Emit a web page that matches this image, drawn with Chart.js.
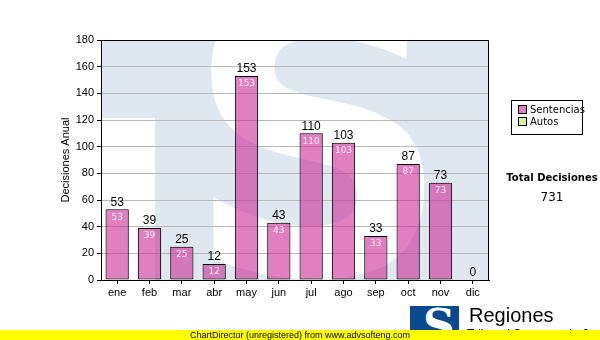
<!DOCTYPE html>
<html>
<head>
<meta charset="utf-8">
<script src="https://cdn.jsdelivr.net/npm/chart.js@4.4.1/dist/chart.umd.min.js"></script>
<style>
  html, body { margin: 0; padding: 0; background: #fff }
  #wrap { position: relative; width: 600px; height: 340px; overflow: hidden; font-family: 'Liberation Sans', Arial, sans-serif }
  #chart { position: absolute; left: 0; top: 0 }
  .legend { position: absolute; left: 511px; top: 100px; width: 72px; height: 35px; border: 1px solid #000; background: #fff;
            font: 10px 'DejaVu Sans', Verdana, sans-serif; box-sizing: border-box; padding: 3px 0 0 6px }
  .legend div { height: 12px; line-height: 12px; white-space: nowrap }
  .legend span { display: inline-block; width: 7px; height: 7px; border: 1px solid #000; margin-right: 3px; vertical-align: -1px }
  .total { position: absolute; left: 502px; width: 100px; text-align: center; font-family: 'DejaVu Sans', Verdana, sans-serif }
  .logo { position: absolute; left: 410px; top: 306px; width: 49px; height: 34px; background: #0a4b8f; overflow: hidden }
  .logo b { position: absolute; left: 13px; top: -6px; color: #fff; font: bold 44px 'DejaVu Serif', serif }
  .regiones { position: absolute; left: 469px; top: 304px; font-size: 20px; color: #000 }
  .tsj { position: absolute; left: 467px; top: 327px; font-size: 12px; color: #000; white-space: nowrap }
  .barra { position: absolute; left: 0; top: 330px; width: 600px; height: 10px; background: #ffff00;
           font-size: 9px; line-height: 10px; text-align: center; color: #000 }
</style>
</head>
<body>
<div id="wrap">
  <canvas id="chart" width="600" height="340"></canvas>
  <div class="legend" id="legend"></div>
  <div class="total" style="top:172px;font-size:10px;font-weight:bold">Total Decisiones</div>
  <div class="total" id="total" style="top:190px;font-size:12px"></div>
  <div class="logo"><b>S</b></div>
  <div class="regiones">Regiones</div>
  <div class="tsj">Tribunal Supremo de Justicia</div>
  <div class="barra">ChartDirector (unregistered) from www.advsofteng.com</div>
</div>
<script>
const meses      = ['ene', 'feb', 'mar', 'abr', 'may', 'jun', 'jul', 'ago', 'sep', 'oct', 'nov', 'dic']
const sentencias = [53, 39, 25, 12, 153, 43, 110, 103, 33, 87, 73, 0]
const autos      = [0, 0, 0, 0, 0, 0, 0, 0, 0, 0, 0, 0]
const yMax = 180, yStep = 20

const totales = sentencias.map((v, i) => v + autos[i])

// legend + total box
const series = [
  { label: 'Sentencias', color: '#e080c0' },
  { label: 'Autos',      color: '#d8f0a0' },
]
document.getElementById('legend').innerHTML = series
  .map(s => `<div><span style="background:${s.color}"></span>${s.label}</div>`).join('')
document.getElementById('total').textContent = totales.reduce((a, b) => a + b, 0)

// light "TS" logo behind the bars
const watermark = {
  id: 'watermark',
  beforeDraw(chart) {
    const { ctx, chartArea: a } = chart
    ctx.save()
    ctx.beginPath()
    ctx.rect(a.left, a.top, a.right - a.left, a.bottom - a.top)
    ctx.clip()
    ctx.fillStyle = '#dfe8f1'
    ctx.fillRect(a.left, a.top, a.right - a.left, a.bottom - a.top)
    ctx.fillStyle = '#fff'
    ctx.fillRect(a.left, a.top + 78, 54, a.bottom - a.top)
    ctx.translate(318, 274)
    ctx.scale(0.95, 1)
    ctx.font = 'bold 390px "DejaVu Sans"'
    ctx.textAlign = 'center'
    ctx.textBaseline = 'alphabetic'
    ctx.fillText('S', 0, 0)
    ctx.restore()
  }
}

// value above each bar and repeated inside it
const valueLabels = {
  id: 'valueLabels',
  afterDatasetsDraw(chart) {
    const { ctx, chartArea: a } = chart
    const meta = chart.getDatasetMeta(0)
    const y = chart.scales.y
    ctx.save()
    ctx.strokeStyle = '#000'
    ctx.lineWidth = 1
    ctx.beginPath()
    ctx.moveTo(a.left, a.top + 0.5)
    ctx.lineTo(a.right - 0.5, a.top + 0.5)
    ctx.lineTo(a.right - 0.5, a.bottom)
    ctx.stroke()
    ctx.textAlign = 'center'
    meta.data.forEach((bar, i) => {
      const top = y.getPixelForValue(totales[i])
      ctx.fillStyle = '#000'
      ctx.font = '12px "Liberation Sans"'
      ctx.textBaseline = 'bottom'
      ctx.fillText(totales[i], bar.x, top - 1)
      if (sentencias[i] > 0) {
        ctx.fillStyle = '#fbe8f4'
        ctx.font = '9px "DejaVu Sans"'
        ctx.textBaseline = 'middle'
        ctx.fillText(sentencias[i], bar.x, bar.y + 8)
      }
    })
    ctx.restore()
  }
}

Chart.defaults.font.family = 'Liberation Sans'
Chart.defaults.font.size = 11
Chart.defaults.color = '#000'

new Chart(document.getElementById('chart'), {
  type: 'bar',
  data: {
    labels: meses,
    datasets: [
      { label: 'Sentencias', data: sentencias, backgroundColor: 'rgba(203,43,150,0.6)', borderColor: '#000', borderWidth: 1, borderSkipped: false, barPercentage: 0.72, categoryPercentage: 1 },
      { label: 'Autos', data: autos, backgroundColor: 'rgba(200,235,140,0.8)', borderWidth: 0, barPercentage: 0.72, categoryPercentage: 1 },
    ]
  },
  options: {
    responsive: false,
    animation: false,
    layout: { padding: { left: 0, top: 40, right: 111, bottom: 40 } },
    plugins: { legend: { display: false }, tooltip: { enabled: false } },
    scales: {
      x: {
        stacked: true,
        grid: { display: true, drawOnChartArea: false, offset: false, tickLength: 4, tickColor: '#000' },
        border: { color: '#000' },
        ticks: { padding: 2, color: '#000' },
        afterFit: s => { s.height = 20 }
      },
      y: {
        stacked: true,
        min: 0, max: yMax,
        ticks: { stepSize: yStep, padding: 3, color: '#000' },
        grid: { color: '#b8b8b8', tickLength: 4, tickColor: '#000' },
        border: { color: '#000' },
        title: { display: true, text: 'Decisiones Anual', font: { size: 11 }, padding: { top: 59, bottom: 0 } },
        afterFit: s => { s.width = 101 }
      }
    }
  },
  plugins: [watermark, valueLabels]
})
</script>
</body>
</html>
